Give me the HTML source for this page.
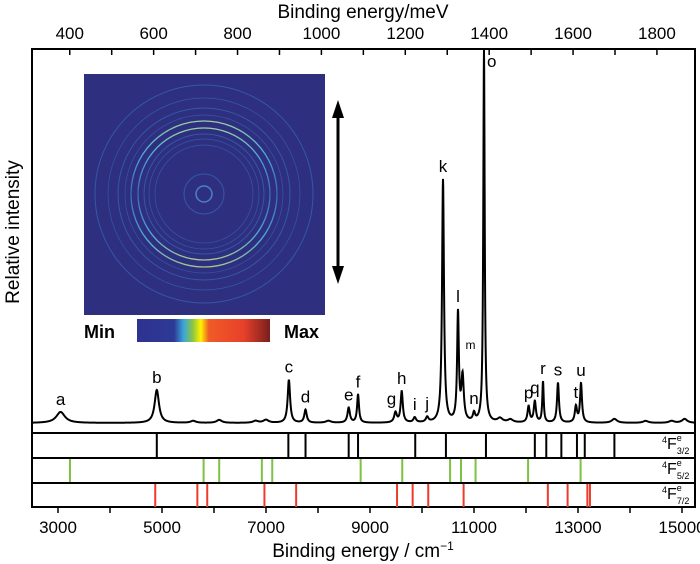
<!DOCTYPE html>
<html><head><meta charset="utf-8"><style>
body{margin:0;background:#fff;}
svg{display:block;font-family:"Liberation Sans",Arial,sans-serif;}
</style></head><body>
<svg id="chart" width="700" height="564" viewBox="0 0 700 564">
<defs>
<linearGradient id="cbar" x1="0" x2="1">
<stop offset="0" stop-color="#2e3190"/><stop offset="0.28" stop-color="#2e3a96"/>
<stop offset="0.35" stop-color="#3aa5dc"/><stop offset="0.42" stop-color="#8cc63f"/>
<stop offset="0.48" stop-color="#fff200"/><stop offset="0.54" stop-color="#f05a28"/>
<stop offset="0.8" stop-color="#e8412a"/><stop offset="1" stop-color="#7a1e1e"/>
</linearGradient>
<linearGradient id="ring" x1="0" y1="0" x2="0" y2="1">
<stop offset="0" stop-color="#9ad0a0"/><stop offset="0.2" stop-color="#4cb0d8"/>
<stop offset="0.5" stop-color="#3a68b8"/><stop offset="0.8" stop-color="#4cb0d8"/><stop offset="1" stop-color="#a0c890"/>
</linearGradient>
</defs>
<g id="axes"></g>
<path id="spec" fill="none" stroke="#000" stroke-width="2"/>
<g id="peaklabels" font-size="17"></g>
<g id="sticks"></g>
<g id="inset">
<rect x="84" y="74" width="241" height="241" fill="#2f2f80"/>
<g fill="none" stroke="#3358a8" stroke-width="1">
<circle cx="204" cy="194" r="109"/><circle cx="204" cy="194" r="96" stroke-width="0.7"/>
<circle cx="204" cy="194" r="86"/><circle cx="204" cy="194" r="79" stroke-width="0.7"/>
<circle cx="204" cy="194" r="60"/><circle cx="204" cy="194" r="55" stroke-width="0.7"/>
<circle cx="204" cy="194" r="49" stroke-width="0.7"/><circle cx="204" cy="194" r="20"/>
<circle cx="204" cy="194" r="8" stroke="#4a80c8" stroke-width="1.5"/>
</g>
<circle cx="204" cy="194" r="73" fill="none" stroke="url(#ring)" stroke-width="1.3"/>
<circle cx="204" cy="194" r="66" fill="none" stroke="url(#ring)" stroke-width="1.3"/>
<line x1="338" y1="112" x2="338" y2="272" stroke="#000" stroke-width="3"/>
<polygon points="338,100 332,118 344,118" fill="#000"/>
<polygon points="338,284 332,266 344,266" fill="#000"/>
<rect x="137" y="319" width="133" height="23" fill="url(#cbar)"/>
<text x="84" y="338" font-size="18" font-weight="bold">Min</text>
<text x="284" y="338" font-size="18" font-weight="bold">Max</text>
</g>
</svg>
<script>
const peakNames = ['a','b','c','d','e','f','g','h','i','j','k','l','m','n','o','p','q','r','s','t','u'];
const peakPos = [3050,4900,7440,7760,8590,8770,9490,9610,9860,10100,10404,10692,10780,11000,11192,12050,12170,12327,12615,12960,13058];
const peakHeight = [11,33,43,13,15,28,10,31,5,5,243,108,45,8,372,16,21,41,40,16,39];
const peakWidth = [100,50,28,28,28,22,30,25,30,30,22,20,28,25,16,25,25,16,22,25,22];
const smallPos = [5600,6100,6800,7000,8200,11500,11700,13700,14300,14800,15050];
const smallHeight = [2,3,2,3,2,4,3,4,2,2,4];
const sticks32 = [4900,7430,7760,8590,8770,9870,10460,11230,12170,12390,12680,12980,13130,13700];
const sticks52 = [3230,5800,6100,6920,7120,8820,9620,10540,10750,11030,12040,13050];
const sticks72 = [4870,5680,5870,6970,7580,9520,9820,10120,10800,12420,12800,13180,13230];
const bottomTicks = [3000,5000,7000,9000,11000,13000,15000];
const topTicks = [400,600,800,1000,1200,1400,1600,1800];

const NS='http://www.w3.org/2000/svg';
const L=32,R=695,T=49,B=507,BASE=423;
const xs=v=>58+(v-3000)*0.052;
const xm=m=>xs(m*8.0655);
function mk(tag,attrs,parent){const e=document.createElementNS(NS,tag);for(const k in attrs)e.setAttribute(k,attrs[k]);parent.appendChild(e);return e;}
const ax=document.getElementById('axes');
let fr=mk('rect',{x:L,y:T,width:R-L,height:B-T,fill:'none',stroke:'#000','stroke-width':2},ax);


const panelTops=[433,458,483];
panelTops.forEach(y=>{const l=mk('line',{x1:L,x2:R,y1:y,y2:y,stroke:'#000','stroke-width':2},ax);

});
for(let v=3000;v<=15000;v+=1000){const l=mk('line',{x1:xs(v),x2:xs(v),y1:B,y2:B+6,stroke:'#000','stroke-width':1.5},ax);

}
bottomTicks.forEach(v=>{const t=mk('text',{x:xs(v),y:533,'font-size':17,'text-anchor':'middle'},ax);t.textContent=v;

});
let xt=mk('text',{x:363,y:557,'font-size':19,'text-anchor':'middle'},ax);
xt.innerHTML='Binding energy / cm<tspan dy="-7" font-size="12">−1</tspan>';


for(let m=400;m<=1800;m+=100){const l=mk('line',{x1:xm(m),x2:xm(m),y1:T,y2:T+6,stroke:'#000','stroke-width':1.5},ax);

}
topTicks.forEach(m=>{const t=mk('text',{x:xm(m),y:39,'font-size':17,'text-anchor':'middle'},ax);t.textContent=m;

});
let tt=mk('text',{x:363,y:18,'font-size':19,'text-anchor':'middle'},ax);tt.textContent='Binding energy/meV';


let yt=mk('text',{x:0,y:0,'font-size':19,'text-anchor':'middle',transform:'translate(19,232) rotate(-90)'},ax);yt.textContent='Relative intensity';


function I(v){let s=0;for(let i=0;i<peakPos.length;i++){const d=(v-peakPos[i])/peakWidth[i];s+=peakHeight[i]/(1+d*d);}
for(let i=0;i<smallPos.length;i++){const d=(v-smallPos[i])/60;s+=smallHeight[i]/(1+d*d);}return s;}
let d='';for(let v=2500;v<=15250;v+=4){let y=Math.max(BASE-I(v),T);d+=(d?'L':'M')+xs(v).toFixed(2)+','+y.toFixed(2);}
document.getElementById('spec').setAttribute('d',d);
const pl=document.getElementById('peaklabels');
peakNames.forEach((n,i)=>{let y=BASE-I(peakPos[i])-7;let x=xs(peakPos[i]);let anchor='middle';let fs=17;
if(n==='o'){y=67;x+=3;anchor='start';}
if(n==='m'){fs=12;x+=3;anchor='start';y=BASE-I(peakPos[i])-22;}
if(n==='g'){x-=4;}
const t=mk('text',{x:x,y:y,'text-anchor':anchor,'font-size':fs},pl);t.textContent=n;

});
const sg=document.getElementById('sticks');
const sets=[[sticks32,'#000',433,'3/2'],[sticks52,'#7dc242',458,'5/2'],[sticks72,'#ee3a2a',483,'7/2']];
sets.forEach(([arr,col,y0,lab])=>{arr.forEach(v=>{const l=mk('line',{x1:xs(v),x2:xs(v),y1:y0+1,y2:y0+24,stroke:col,'stroke-width':2},sg);

});
const t=mk('text',{x:662,y:y0+16,'font-size':16},sg);
t.innerHTML='<tspan font-size="9" dy="-6">4</tspan><tspan dy="6">F</tspan><tspan font-size="9" dy="-8">e</tspan><tspan font-size="9" dx="-5" dy="13">'+lab+'</tspan>';

});
</script>
</body></html>
